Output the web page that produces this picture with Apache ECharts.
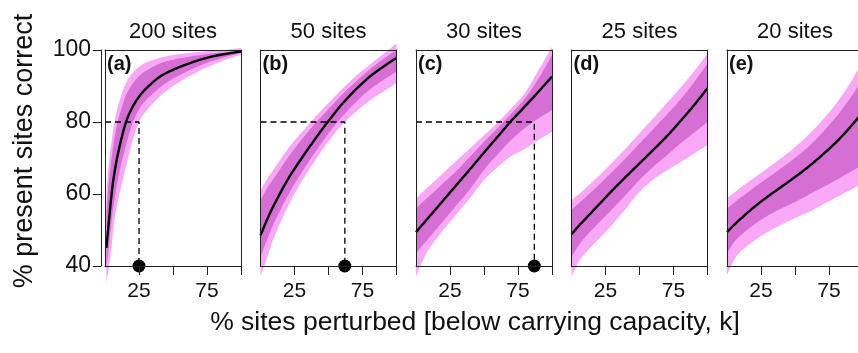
<!DOCTYPE html>
<html><head><meta charset="utf-8">
<script src="https://cdn.jsdelivr.net/npm/echarts@6/dist/echarts.min.js"></script>
<style>html,body{margin:0;padding:0;background:#fff}#c{width:858px;height:353px}</style>
</head><body><div id="c"></div>
<script>
// ---------------- data ----------------
const panelTitles = ['200 sites', '50 sites', '30 sites', '25 sites', '20 sites'];
const panelLabels = ['(a)', '(b)', '(c)', '(d)', '(e)'];
const xTickValues = [25, 50, 75, 100];
const xLabelValues = [25, 75];
const yLabelValues = [40, 60, 80, 100];
const yTitle = '% present sites correct';
const xTitle = '% sites perturbed [below carrying capacity, k]';

// panel (a) - 200 sites
const xA  = [1, 2, 3, 5, 7, 10, 15, 20, 25, 30, 40, 50, 60, 70, 80, 90, 100];
const mA  = [45, 49, 53, 60.5, 66, 72, 79.5, 84, 87, 89.2, 92.5, 94.5, 96, 97.3, 98.3, 99, 99.6];
const ulA = [60, 65, 69, 75, 80, 85, 90.5, 93.5, 95.3, 96.5, 97.8, 98.6, 99.1, 99.5, 99.8, 100.1, 100.6];
const udA = [55, 60, 64, 70.5, 75.5, 81, 87, 90.5, 92.7, 94.2, 96.2, 97.3, 98, 98.6, 99.1, 99.5, 100];
const ldA = [39, 42.5, 46, 53, 58.5, 65, 73, 79.5, 83.5, 86, 89.5, 92, 94, 95.7, 97.1, 98.2, 99.2];
const llA = [35.5, 37.5, 40, 46, 53, 59, 67, 74.5, 80, 83, 87, 90, 92.3, 94.3, 96, 97.5, 98.7];

// panels (b)-(e) share x positions
const xB = [0, 5, 10, 20, 30, 40, 50, 60, 70, 80, 90, 100];
// (b) 50 sites
const mB  = [48.5, 53, 57, 64, 69.8, 75.2, 80.3, 85, 89, 92.5, 95.3, 97.8];
const ulB = [61, 64.3, 67, 72.5, 77, 81.3, 85.3, 89.2, 92.7, 95.8, 98.8, 101.8];
const udB = [58.3, 61.7, 64.5, 70, 75, 79.5, 83.6, 87.6, 91.2, 94.5, 97.4, 100];
const ldB = [42.5, 47.5, 52, 59.5, 65.8, 71.5, 76.8, 81.5, 85.5, 88.9, 91.6, 94];
const llB = [37, 42.5, 48, 56.5, 63.3, 69.2, 74.6, 79.2, 82.8, 85.9, 88.4, 90.8];
// (c) 30 sites
const mC  = [49.4, 51.6, 53.8, 58.2, 62.6, 67, 71.5, 75.9, 80.3, 84.3, 88.4, 92.6];
const ulC = [58.8, 60.6, 62.3, 65.8, 69.3, 72.8, 76.3, 79.8, 83.8, 88, 94.4, 100.9];
const udC = [56, 57.8, 59.5, 63, 66.5, 70.5, 74.5, 78.3, 82.3, 86.5, 92, 98.6];
const ldC = [43.5, 45.8, 48, 52.5, 57, 61.5, 66.7, 71, 75, 78.3, 81, 83.3];
const llC = [37, 41.5, 45, 50, 54.5, 59, 63.9, 67.5, 70.5, 72.5, 75, 77.3];
// (d) 25 sites
const mD  = [48.8, 51, 53, 57, 61, 64.8, 68.5, 72.2, 76, 80.2, 84.6, 89.4];
const ulD = [58.3, 59.8, 61.5, 65, 68.8, 72.7, 76.9, 81, 85.2, 89.5, 94, 99];
const udD = [55.6, 57.3, 59, 62.5, 66.2, 70, 74, 78, 82, 86.2, 91, 96.3];
const ldD = [42.6, 45.5, 48, 52, 55.8, 59.8, 63.9, 67.5, 70.7, 74, 77, 80];
const llD = [37, 41, 43.5, 47.5, 51.5, 56, 60.6, 64, 66.5, 68.8, 71.2, 73.6];
// (e) 20 sites
const mE  = [49.4, 51.3, 53.1, 56.4, 59.3, 62, 64.7, 67.6, 70.8, 74.3, 78.3, 82.8];
const ulE = [58.8, 60.3, 61.8, 64.5, 67.2, 70, 73, 76.5, 80.5, 85, 90.5, 97];
const udE = [56, 57.5, 59, 61.8, 64.5, 67.2, 70, 73.2, 77, 81.3, 86.3, 92];
const ldE = [43.5, 46.5, 48.5, 51.5, 54, 56, 57.8, 59.8, 61.8, 63.8, 66, 68];
const llE = [37.5, 41.5, 44, 47, 49.5, 51.5, 53.3, 55, 57, 59, 61, 63];

// 80% threshold reference points (x where dashed line drops), null = none
const refLevel = 80;
const refX = [25, 62, 87, null, null];

// ---------------- chart ----------------
const panels = [
  {x: xA, m: mA, ul: ulA, ud: udA, ld: ldA, ll: llA},
  {x: xB, m: mB, ul: ulB, ud: udB, ld: ldB, ll: llB},
  {x: xB, m: mC, ul: ulC, ud: udC, ld: ldC, ll: llC},
  {x: xB, m: mD, ul: ulD, ud: udD, ld: ldD, ll: llD},
  {x: xB, m: mE, ul: ulE, ud: udE, ld: ldE, ll: llE}
];

const FONT = '"Liberation Sans", Arial, sans-serif';
const LIGHT = '#f9a8f6';
const DARK = '#d66fd3';
const INK = '#111';
const gridLeft0 = 105, gridStep = 155.5, gridW = 136, gridTop = 50, gridH = 216;

// Catmull-Rom smoothing of pixel points (for band outlines and mean curves)
function smoothPts(pts, steps) {
  const out = [];
  const n = pts.length;
  for (let i = 0; i < n - 1; i++) {
    const p0 = pts[Math.max(i - 1, 0)], p1 = pts[i], p2 = pts[i + 1], p3 = pts[Math.min(i + 2, n - 1)];
    for (let s = 0; s < steps; s++) {
      const t = s / steps, t2 = t * t, t3 = t2 * t;
      const f = (a, b, c, d) => 0.5 * ((2 * b) + (-a + c) * t + (2 * a - 5 * b + 4 * c - d) * t2 + (-a + 3 * b - 3 * c + d) * t3);
      out.push([f(p0[0], p1[0], p2[0], p3[0]), f(p0[1], p1[1], p2[1], p3[1])]);
    }
  }
  out.push(pts[n - 1]);
  return out;
}

const grids = [], xAxes = [], yAxes = [], series = [], graphics = [];
const boxLine = {show: true, onZero: false, lineStyle: {color: '#222', width: 1}};

panels.forEach((p, i) => {
  const left = gridLeft0 + i * gridStep;
  grids.push({left: left, top: gridTop, width: gridW, height: gridH, containLabel: false, outerBoundsMode: 'none'});
  xAxes.push({
    gridIndex: i, type: 'value', min: 0, max: 100, interval: 25, position: 'bottom', z: 10,
    axisLine: boxLine,
    axisTick: {show: true, customValues: xTickValues, length: 9, lineStyle: {color: '#222'}},
    axisLabel: {show: true, customValues: xLabelValues, fontSize: 21, fontFamily: FONT, color: INK, margin: 15},
    splitLine: {show: false}
  });
  xAxes.push({
    gridIndex: i, type: 'value', min: 0, max: 100, position: 'top', z: 10,
    axisLine: boxLine, axisTick: {show: false}, axisLabel: {show: false}, splitLine: {show: false}
  });
  yAxes.push({
    gridIndex: i, type: 'value', min: 40, max: 100, position: 'left', z: 10,
    axisLine: boxLine, axisTick: {show: false}, axisLabel: {show: false}, splitLine: {show: false}
  });
  yAxes.push({
    gridIndex: i, type: 'value', min: 40, max: 100, position: 'right', z: 10,
    axisLine: boxLine, axisTick: {show: false}, axisLabel: {show: false}, splitLine: {show: false}
  });

  const xi = 2 * i, yi = 2 * i;
  const band = (lo, hi, color) => {
    series.push({
      type: 'custom', xAxisIndex: xi, yAxisIndex: yi, silent: true, clip: false, z: 2,
      data: p.x.map((x, k) => [x, lo[k], hi[k]]),
      renderItem: (params, api) => {
        if (params.dataIndex !== 0) return null;
        const upper = p.x.map((x, k) => api.coord([x, hi[k]]));
        const lower = p.x.map((x, k) => api.coord([x, lo[k]])).reverse();
        const pts = smoothPts(upper, 10).concat(smoothPts(lower, 10));
        return {type: 'polygon', shape: {points: pts}, style: {fill: color}, silent: true};
      }
    });
  };
  band(p.ll, p.ul, LIGHT);
  band(p.ld, p.ud, DARK);
  series.push({
    type: 'custom', xAxisIndex: xi, yAxisIndex: yi, silent: true, clip: false, z: 4,
    data: p.x.map((x, k) => [x, p.m[k]]),
    renderItem: (params, api) => {
      if (params.dataIndex !== 0) return null;
      const pts = smoothPts(p.x.map((x, k) => api.coord([x, p.m[k]])), 10);
      return {type: 'polyline', shape: {points: pts}, style: {stroke: '#000', lineWidth: 2.4, fill: null, lineJoin: 'round'}, silent: true};
    }
  });
  if (refX[i] != null) {
    series.push({
      type: 'line', xAxisIndex: xi, yAxisIndex: yi, symbol: 'none', silent: true, z: 5,
      lineStyle: {color: '#000', width: 1.3, type: [6, 4]},
      data: [[0, refLevel], [refX[i], refLevel], [refX[i], 40]]
    });
    series.push({
      type: 'scatter', xAxisIndex: xi, yAxisIndex: yi, silent: true, clip: false, z: 6,
      symbol: 'circle', symbolSize: 13, itemStyle: {color: '#000', opacity: 1},
      data: [[refX[i], 40]]
    });
  }
  graphics.push({
    type: 'text', x: left + gridW / 2, y: 32, silent: true,
    style: {text: panelTitles[i], font: '22px ' + FONT, fill: INK, align: 'center', verticalAlign: 'middle'}
  });
  graphics.push({
    type: 'text', x: left + 2, y: 64, z: 20, silent: true,
    style: {text: panelLabels[i], font: 'bold 20px ' + FONT, fill: INK, align: 'left', verticalAlign: 'middle'}
  });
});

// labelled y-axis of panel (a), offset from the box
yAxes.push({
  gridIndex: 0, type: 'value', min: 40, max: 100, interval: 20, position: 'left', offset: 4, z: 10,
  axisLine: boxLine,
  axisTick: {show: true, length: 8, lineStyle: {color: '#222'}},
  axisLabel: {show: true, fontSize: 23, fontFamily: FONT, color: INK, margin: 10, customValues: yLabelValues},
  splitLine: {show: false}
});

graphics.push({
  type: 'text', x: 25, y: 151, rotation: Math.PI / 2, silent: true,
  style: {text: yTitle, font: '27px ' + FONT, fill: INK, align: 'center', verticalAlign: 'middle'}
});
graphics.push({
  type: 'text', x: 475, y: 323, silent: true,
  style: {text: xTitle, font: '26.5px ' + FONT, fill: INK, align: 'center', verticalAlign: 'middle'}
});

const chart = echarts.init(document.getElementById('c'), null, {renderer: 'canvas'});
chart.setOption({
  animation: false,
  backgroundColor: '#fff',
  grid: grids, xAxis: xAxes, yAxis: yAxes, series: series, graphic: graphics
});
</script></body></html>
